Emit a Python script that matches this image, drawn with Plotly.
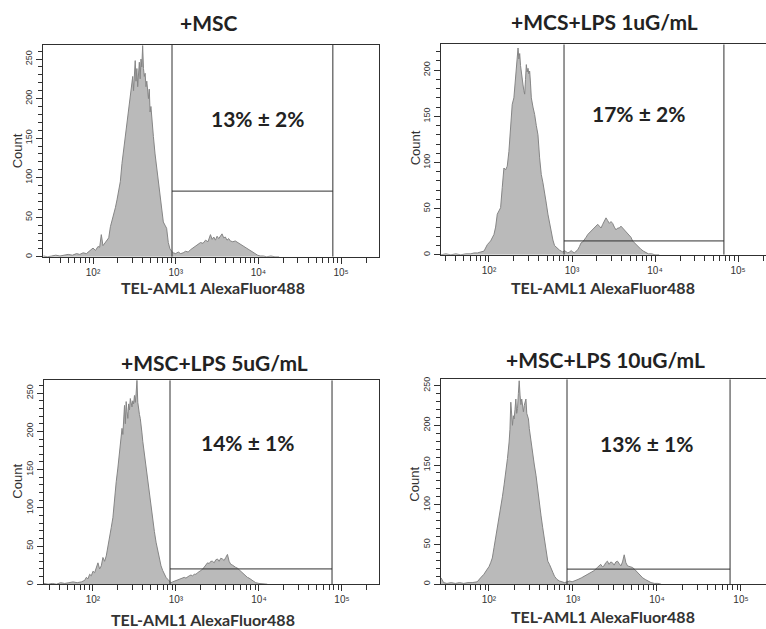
import numpy as np
import plotly.graph_objects as go

W, H = 766, 629

# ---------------- data ----------------
titles = ["+MSC", "+MCS+LPS 1uG/mL", "+MSC+LPS 5uG/mL", "+MSC+LPS 10uG/mL"]
pct_labels = ["13% ± 2%", "17% ± 2%", "14% ± 1%", "13% ± 1%"]
x_title = "TEL-AML1 AlexaFluor488"
y_title = "Count"

# histogram: log10(TEL-AML1 AlexaFluor488 intensity) and event count
p1_log = [1.40, 1.45, 1.50, 1.55, 1.60, 1.65, 1.70, 1.75, 1.80,
          1.84, 1.88, 1.92, 1.96,
          2.00, 2.03, 2.06, 2.08, 2.10, 2.12, 2.14, 2.17,
          2.19, 2.21, 2.23, 2.25, 2.27, 2.29, 2.31, 2.33, 2.35, 2.37, 2.39, 2.41, 2.43, 2.45, 2.47,
          2.48, 2.49, 2.50, 2.51, 2.52, 2.53, 2.54, 2.55, 2.56, 2.57, 2.58, 2.59, 2.60, 2.61, 2.62,
          2.63, 2.64, 2.65, 2.66, 2.67, 2.68, 2.69, 2.70, 2.71, 2.72, 2.73,
          2.75, 2.77, 2.79, 2.81, 2.83, 2.85, 2.87, 2.89, 2.91, 2.93, 2.95, 2.97,
          3.00, 3.03, 3.06, 3.09, 3.12, 3.15, 3.18, 3.21, 3.24, 3.27, 3.30, 3.33, 3.36, 3.39, 3.42,
          3.44, 3.46, 3.48, 3.50, 3.52, 3.54, 3.56, 3.58, 3.60, 3.62, 3.64, 3.66,
          3.69, 3.72, 3.75, 3.78, 3.81, 3.84, 3.87, 3.90, 3.93, 3.96, 3.99,
          4.02, 4.06, 4.10, 4.15, 4.20, 4.25]
p1_cnt = [1, 0, 1, 2, 1, 2, 3, 2, 4,
          3, 5, 4, 7,
          11, 8, 13, 12, 28, 14, 17, 20,
          24, 38, 46, 52, 62, 72, 85, 95, 118, 135, 150, 170, 185, 200, 215,
          228, 210, 236, 248, 222, 238, 215, 230, 246, 225, 250, 240, 267, 238, 228,
          232, 215, 222, 210, 200, 212, 183, 190, 172, 160, 152,
          130, 112, 92, 74, 58, 44, 40, 36, 18, 10, 7, 5,
          4, 6, 4, 5, 7, 6, 9, 11, 13, 15, 18, 17, 21, 19, 28,
          22, 25, 21, 26, 23, 27, 29, 24, 25, 21, 23, 20,
          19, 20, 18, 15, 13, 11, 9, 7, 5, 3, 2,
          1, 1, 0, 1, 0, 0]

p2_log = [1.42, 1.48, 1.54, 1.60, 1.66, 1.72, 1.78,
          1.82, 1.86, 1.90, 1.94, 1.98, 2.02, 2.06,
          2.08, 2.10, 2.12, 2.14, 2.16, 2.18, 2.20, 2.22, 2.24, 2.26, 2.28, 2.30, 2.32,
          2.33, 2.34, 2.35, 2.36, 2.37, 2.38, 2.39, 2.40, 2.41, 2.42, 2.43, 2.44, 2.45, 2.46,
          2.47, 2.48, 2.49, 2.50, 2.51,
          2.53, 2.55, 2.57, 2.59, 2.61, 2.63, 2.65, 2.67, 2.69, 2.71,
          2.73, 2.75, 2.77, 2.79, 2.81, 2.83, 2.85, 2.87, 2.89, 2.91,
          2.93, 2.95, 2.97, 2.99, 3.01, 3.03, 3.05, 3.07, 3.09, 3.11,
          3.13, 3.15, 3.17, 3.19, 3.21, 3.23, 3.25, 3.27, 3.29, 3.31,
          3.33, 3.35, 3.37, 3.39, 3.41, 3.43, 3.45, 3.47, 3.49, 3.51,
          3.53, 3.55, 3.57, 3.59, 3.61, 3.63, 3.65, 3.67, 3.69, 3.71, 3.73,
          3.76, 3.80, 3.83, 3.86, 3.89, 3.92, 3.96, 4.00, 4.05]
p2_cnt = [0, 1, 0, 1, 0, 1, 1,
          2, 2, 3, 4, 11, 15, 22,
          30, 44, 47, 51, 73, 94, 92, 96, 112, 141, 163, 170, 192,
          205, 215, 224, 212, 218, 205, 196, 188, 184, 178, 174, 190, 206, 198,
          202, 196, 199, 186, 170,
          160, 152, 140, 130, 105, 87, 78, 69, 56, 44,
          34, 26, 16, 10, 8, 7, 5, 4, 3, 4.5,
          3, 2, 3, 4.5, 3, 2, 4, 5.5, 9, 13,
          14, 16, 19, 22, 24, 26, 27, 29, 31, 33,
          31, 29, 33, 36, 40, 37, 34, 36, 34, 30,
          27, 29, 29, 31, 29, 28, 26, 24, 22, 19, 15,
          12, 9, 6, 4, 2, 1, 1, 0, 0]

p3_log = [1.41, 1.46, 1.51, 1.56, 1.61, 1.66, 1.71, 1.76, 1.81, 1.86,
          1.90, 1.92, 1.94, 1.96, 1.98, 2.00, 2.02, 2.04, 2.06, 2.08,
          2.10, 2.12, 2.14, 2.16, 2.18, 2.20, 2.22, 2.24, 2.26, 2.28,
          2.30, 2.32, 2.34,
          2.35, 2.36, 2.37, 2.38, 2.39, 2.40, 2.41, 2.42, 2.43, 2.44,
          2.45, 2.46, 2.47, 2.48, 2.49, 2.50, 2.51, 2.52, 2.53, 2.54,
          2.55, 2.56, 2.57, 2.58, 2.59, 2.60, 2.61, 2.62,
          2.64, 2.66, 2.68, 2.70, 2.72, 2.74, 2.76, 2.78, 2.80, 2.82,
          2.84, 2.86, 2.88, 2.90, 2.92, 2.94, 2.96, 2.98, 3.00, 3.02,
          3.04, 3.06, 3.08, 3.10, 3.12, 3.14, 3.16, 3.18, 3.20, 3.22,
          3.24, 3.26, 3.28, 3.30, 3.32, 3.34, 3.36, 3.38, 3.40, 3.42,
          3.44, 3.46, 3.48, 3.50, 3.52, 3.54, 3.56, 3.58, 3.60, 3.62,
          3.64, 3.66, 3.68, 3.70, 3.72, 3.74, 3.76, 3.78, 3.80, 3.82,
          3.84, 3.86, 3.88, 3.90, 3.93, 3.96, 4.00, 4.05, 4.10]
p3_cnt = [1, 0, 1, 0, 2, 1, 2, 3, 2, 3,
          5, 9, 7, 13, 11, 17, 15, 22, 28, 20,
          24, 35, 30, 37, 48, 61, 74, 87, 113, 134,
          152, 174, 190,
          204, 196, 222, 234, 210, 239, 226, 217, 236, 228,
          243, 238, 232, 240, 236, 247, 238, 250, 267, 238,
          226, 222, 217, 210, 198, 187, 178, 169,
          154, 139, 122, 104, 86, 69, 55, 43, 33, 24,
          18, 13, 9, 6.5, 4, 2, 3, 4, 4, 5,
          6, 7, 8, 9, 8, 10, 11, 12, 11, 13,
          13, 15, 17, 18, 19.5, 22, 25, 28, 27, 30,
          30, 28, 32, 33, 30, 34, 33, 31, 35, 39,
          30, 26, 25, 23, 22, 21, 19, 17, 14, 12,
          11, 9, 8, 6.5, 4, 2, 1, 0, 0]

p4_log = [1.43, 1.46, 1.50, 1.55, 1.60, 1.65, 1.70, 1.75, 1.80, 1.86,
          1.90, 1.94, 1.98, 2.00, 2.02, 2.04, 2.06, 2.08, 2.10, 2.12,
          2.14, 2.16, 2.18, 2.20, 2.22, 2.24,
          2.25, 2.26, 2.27, 2.28, 2.29, 2.30, 2.31, 2.32, 2.33, 2.34,
          2.35, 2.36, 2.37, 2.38, 2.39, 2.40, 2.41, 2.42, 2.43, 2.44,
          2.45, 2.46, 2.47, 2.48, 2.49, 2.50,
          2.52, 2.54, 2.56, 2.58, 2.60, 2.62, 2.64, 2.66, 2.68, 2.70,
          2.72, 2.74, 2.76, 2.78,
          2.81, 2.84, 2.87, 2.90, 2.93, 2.96, 2.99, 3.02,
          3.06, 3.10, 3.13, 3.17, 3.21, 3.25, 3.29, 3.33,
          3.35, 3.37, 3.39, 3.41, 3.43, 3.45, 3.47, 3.49, 3.51, 3.53,
          3.55, 3.57, 3.59, 3.61, 3.63, 3.65,
          3.68, 3.71, 3.74, 3.77, 3.80, 3.83, 3.86, 3.89,
          3.93, 3.97, 4.01, 4.05]
p4_cnt = [8, 2, 1, 2, 1, 2, 1, 2, 2, 3,
          8, 12.5, 19, 22, 27, 33, 46, 58, 71, 84,
          96, 110, 125, 140, 158, 179,
          195, 229, 205, 200, 212, 208, 220, 233, 215, 221,
          240, 256, 238, 226, 233, 222, 217, 225, 228, 233,
          215, 212, 208, 196, 187, 178,
          162, 150, 137, 118, 100, 86, 71, 56, 42, 29,
          25, 21, 15, 10,
          6, 4, 3, 2, 3, 4, 3, 4,
          6, 8, 10, 12.5, 15, 17, 21, 25,
          22, 23, 27, 29, 25, 28, 27, 24, 28, 29,
          26, 23, 28, 37, 27, 23,
          22, 21, 18, 14.5, 11, 8, 6, 4,
          2, 1, 1, 0]

hist_logs = [p1_log, p2_log, p3_log, p4_log]
hist_cnts = [p1_cnt, p2_cnt, p3_cnt, p4_cnt]
for a, b in zip(hist_logs, hist_cnts):
    assert len(a) == len(b), (len(a), len(b))

# gates (log10 intensity) and marker height (count)
gate_low_log = [2.955, 2.904, 2.928, 2.929]
gate_high_log = [4.90, 4.83, 4.88, 4.87]
gate_count = [83, 15, 20, 19]

decades = [2, 3, 4, 5]
decade_labels = ["10²", "10³", "10⁴", "10⁵"]
y_major = [0, 50, 100, 150, 200, 250]

# ---------------- layout geometry (pixels) ----------------
boxes = [(43, 379, 43, 256), (441, 766, 42.5, 254), (44, 379, 380, 585), (441, 766, 379, 585)]
xranges = [(1.395, 5.458), (1.422, 5.337), (1.41, 5.446), (1.429, 5.298)]
ymax = [268, 228, 267, 258]
title_pos = [(209, 21), (604, 20), (214, 362), (605, 359)]
pct_pos = [(257, 117), (638, 112), (247, 443), (646, 444)]
xt_pos = [(213, 287), (603, 287), (203, 620), (603, 617)]
yt_pos = [(17, 150), (415, 147), (18, 482), (415, 485)]

def px(x):
    return x / W

def py(y):
    return 1 - y / H

fill_col = "#bababa"
edge_col = "#858585"
axis_col = "#303030"
text_col = "#222222"
tick_font = dict(family="Liberation Sans, Arial", size=9, color="#333333")
xtick_font = dict(family="Liberation Sans, Arial", size=10, color="#333333")

fig = go.Figure()
layout = dict(width=W, height=H, margin=dict(l=0, r=0, t=0, b=0),
              paper_bgcolor="white", plot_bgcolor="white", showlegend=False)
annotations = []

for i in range(4):
    n = "" if i == 0 else str(i + 1)
    xa, ya = "x" + n, "y" + n
    x0, x1, ytop, ybot = boxes[i]
    lo, hi = xranges[i]

    fig.add_trace(go.Scatter(
        x=[10 ** v for v in hist_logs[i]], y=hist_cnts[i], mode="lines",
        line=dict(color=edge_col, width=1), fill="tozeroy", fillcolor=fill_col,
        xaxis=xa, yaxis=ya, hoverinfo="skip"))

    gl, gh, gc = 10 ** gate_low_log[i], 10 ** gate_high_log[i], gate_count[i]
    for gx in (gl, gh):
        fig.add_trace(go.Scatter(x=[gx, gx], y=[0, ymax[i]], mode="lines",
                                 line=dict(color=axis_col, width=1),
                                 xaxis=xa, yaxis=ya, hoverinfo="skip"))
    fig.add_trace(go.Scatter(x=[gl, gh], y=[gc, gc], mode="lines",
                             line=dict(color=axis_col, width=1),
                             xaxis=xa, yaxis=ya, hoverinfo="skip"))

    major_vals, major_text, minor_vals = [], [], []
    for d in range(1, 6):
        for m in range(1, 10):
            v = m * 10 ** d
            if lo <= np.log10(v) <= hi:
                if m == 1 and d in decades:
                    major_vals.append(v)
                    major_text.append(decade_labels[decades.index(d)])
                else:
                    minor_vals.append(v)

    layout["xaxis" + n] = dict(
        domain=[px(x0), px(x1)], anchor=ya, type="log", range=[lo, hi],
        showline=True, linecolor=axis_col, linewidth=1, mirror=True,
        ticks="outside", ticklen=6, tickcolor=axis_col, tickwidth=1,
        tickmode="array", tickvals=major_vals, ticktext=major_text, tickfont=xtick_font,
        minor=dict(tickmode="array", tickvals=minor_vals, ticks="outside",
                   ticklen=5, tickcolor=axis_col, tickwidth=1, showgrid=False),
        showgrid=False, zeroline=False, fixedrange=True)
    layout["yaxis" + n] = dict(
        domain=[py(ybot), py(ytop)], anchor=xa, range=[0, ymax[i]],
        showline=True, linecolor=axis_col, linewidth=1, mirror=(i in (0, 2)),
        ticks="outside", ticklen=6, tickcolor=axis_col, tickwidth=1,
        tickmode="array", tickvals=y_major, ticktext=[str(v) for v in y_major],
        tickangle=-90, tickfont=tick_font,
        minor=dict(dtick=10, tick0=0, ticks="outside", ticklen=4,
                   tickcolor=axis_col, tickwidth=1, showgrid=False),
        showgrid=False, zeroline=False, fixedrange=True)

    annotations.append(dict(text=titles[i], x=px(title_pos[i][0]), y=py(title_pos[i][1]),
                            xref="paper", yref="paper", showarrow=False,
                            xanchor="center", yanchor="middle",
                            font=dict(family="Lato", size=21, color=text_col, weight="bold")))
    annotations.append(dict(text=pct_labels[i], x=px(pct_pos[i][0]), y=py(pct_pos[i][1]),
                            xref="paper", yref="paper", showarrow=False,
                            xanchor="center", yanchor="middle",
                            font=dict(family="Lato", size=21, color=text_col, weight="bold")))
    annotations.append(dict(text=x_title, x=px(xt_pos[i][0]), y=py(xt_pos[i][1]),
                            xref="paper", yref="paper", showarrow=False,
                            xanchor="center", yanchor="middle",
                            font=dict(family="Lato", size=16, color="#333333", weight="bold")))
    annotations.append(dict(text=y_title, x=px(yt_pos[i][0]), y=py(yt_pos[i][1]),
                            xref="paper", yref="paper", showarrow=False, textangle=-90,
                            xanchor="center", yanchor="middle",
                            font=dict(family="Liberation Sans, Arial", size=13, color="#333333")))

layout["annotations"] = annotations
fig.update_layout(**layout)
fig.write_html("out.html")
